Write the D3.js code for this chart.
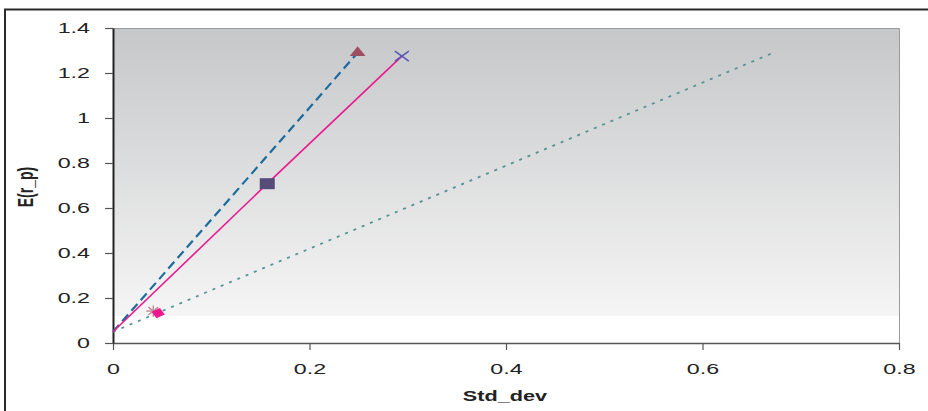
<!DOCTYPE html>
<html>
<head>
<meta charset="utf-8">
<script src="https://cdn.jsdelivr.net/npm/d3@7"></script>
<style>
  html, body { margin: 0; padding: 0; background: #fff; }
  svg { display: block; font-family: "Liberation Sans", Arial, sans-serif; }
</style>
</head>
<body>
<svg id="chart" width="928" height="411"></svg>
<script>
// Axis ticks
const xTicks = [0, 0.2, 0.4, 0.6, 0.8];
const yTicks = [0, 0.2, 0.4, 0.6, 0.8, 1, 1.2, 1.4];

// Lines: [std_dev, expected return]
const steepLine = [[0, 0.05], [0.249, 1.29]];                  // dashed blue
const pinkLine  = [[0, 0.05], [0.157, 0.708], [0.294, 1.275]]; // solid magenta
const cmlLine   = [[0, 0.05], [0.673, 1.292]];                 // dotted teal

// Single-point markers
const diamondPt  = [0.046, 0.133];
const squarePt   = [0.157, 0.708];
const trianglePt = [0.249, 1.29];
const crossPt    = [0.294, 1.275];
const starPt     = [0.041, 0.142];

(function () {
const svg = d3.select("#chart");
const mLeft = 113, mRight = 899, mTop = 28, mBottom = 343;
const stretch = 1.55; // wide text rendering of the chart

const x = d3.scaleLinear().domain([0, 0.8]).range([mLeft, mRight]);
const y = d3.scaleLinear().domain([0, 1.4]).range([mBottom, mTop]);

// outer frame (top and left edges)
svg.append("path")
  .attr("d", `M5,411 L5,9.5 L928,9.5`)
  .attr("fill", "none").attr("stroke", "#2a2a2a").attr("stroke-width", 2);

// plot background: gray gradient fading down to a white band near zero
const defs = svg.append("defs");
const grad = defs.append("linearGradient").attr("id", "bg")
  .attr("x1", 0).attr("y1", 0).attr("x2", 0).attr("y2", 1);
grad.append("stop").attr("offset", "0%").attr("stop-color", "#c6c7c9");
grad.append("stop").attr("offset", "100%").attr("stop-color", "#f5f5f5");

const bandBottom = y(0.12);
svg.append("rect")
  .attr("x", mLeft).attr("y", mTop)
  .attr("width", mRight - mLeft).attr("height", bandBottom - mTop)
  .attr("fill", "url(#bg)");

// plot border (top and right)
svg.append("path")
  .attr("d", `M${mLeft},${mTop + 0.5} L${mRight + 0.5},${mTop + 0.5} L${mRight + 0.5},${mBottom}`)
  .attr("fill", "none").attr("stroke", "#9a9a9a").attr("stroke-width", 1);

// axes
const xAxis = d3.axisBottom(x).tickValues(xTicks).tickFormat(d3.format("")).tickSizeInner(7).tickSizeOuter(0).tickPadding(13);
const yAxis = d3.axisLeft(y).tickValues(yTicks).tickFormat(d3.format("")).tickSizeInner(8).tickSizeOuter(0);

const gx = svg.append("g").attr("transform", `translate(0,${mBottom})`).call(xAxis);
const gy = svg.append("g").attr("transform", `translate(${mLeft},0)`).call(yAxis);

gx.select(".domain").attr("stroke", "#555").attr("stroke-width", 1.5);
gy.select(".domain").attr("stroke", "#222").attr("stroke-width", 2);
[gx, gy].forEach(g => {
  g.selectAll(".tick line").attr("stroke", "#555").attr("stroke-width", 1.2);
  g.selectAll(".tick text").attr("font-size", 15).attr("fill", "#222")
    .attr("font-family", "'Liberation Sans', Arial, sans-serif");
});
gx.selectAll(".tick text").attr("transform", `scale(${stretch},1)`);
gy.selectAll(".tick text").attr("x", 0).attr("transform", `translate(-23,0) scale(${stretch},1)`);

// lines
const line = d3.line().x(d => x(d[0])).y(d => y(d[1]));

svg.append("path").datum(cmlLine).attr("d", line)
  .attr("fill", "none").attr("stroke", "#549494").attr("stroke-width", 1.8)
  .attr("stroke-dasharray", "3,6");

svg.append("path").datum(steepLine).attr("d", line)
  .attr("fill", "none").attr("stroke", "#1a6c9c").attr("stroke-width", 2.2)
  .attr("stroke-dasharray", "9,5");

svg.append("path").datum(pinkLine).attr("d", line)
  .attr("fill", "none").attr("stroke", "#ea1a8e").attr("stroke-width", 1.6);

// markers
// star (asterisk)
{
  const cx = x(starPt[0]), cy = y(starPt[1]), r = 7;
  const g = svg.append("g").attr("stroke", "#c48a96").attr("stroke-width", 1.4);
  [0, 45, 90, 135].forEach(a => {
    const t = a * Math.PI / 180;
    g.append("line")
      .attr("x1", cx - r * Math.cos(t)).attr("y1", cy - r * 0.8 * Math.sin(t))
      .attr("x2", cx + r * Math.cos(t)).attr("y2", cy + r * 0.8 * Math.sin(t));
  });
}
// diamond
svg.append("path")
  .attr("d", d3.symbol().type(d3.symbolDiamond2).size(70)())
  .attr("transform", `translate(${x(diamondPt[0])},${y(diamondPt[1])}) scale(1.3,1) rotate(15)`)
  .attr("fill", "#ea1a8e");

// square
svg.append("rect")
  .attr("x", x(squarePt[0]) - 7.5).attr("y", y(squarePt[1]) - 5.5)
  .attr("width", 15).attr("height", 11)
  .attr("fill", "#554c7a");

// triangle
svg.append("path")
  .attr("d", d3.symbol().type(d3.symbolTriangle).size(55)())
  .attr("transform", `translate(${x(trianglePt[0])},${y(trianglePt[1])}) scale(1.4,1)`)
  .attr("fill", "#9c4f60");

// cross
{
  const cx = x(crossPt[0]), cy = y(crossPt[1]);
  svg.append("path")
    .attr("d", `M${cx - 7},${cy - 5} L${cx + 7},${cy + 5} M${cx - 7},${cy + 5} L${cx + 7},${cy - 5}`)
    .attr("stroke", "#5454b4").attr("stroke-width", 1.4).attr("fill", "none");
}

// axis titles
svg.append("text")
  .attr("transform", `translate(505,401) scale(${stretch},1)`)
  .attr("text-anchor", "middle")
  .attr("font-size", 14).attr("font-weight", "bold").attr("fill", "#222")
  .text("Std_dev");

svg.append("text")
  .attr("transform", `translate(33,187) scale(${stretch},1) rotate(-90)`)
  .attr("text-anchor", "middle")
  .attr("font-size", 14).attr("font-weight", "bold").attr("fill", "#222")
  .text("E(r_p)");
})();
</script>
</body>
</html>
